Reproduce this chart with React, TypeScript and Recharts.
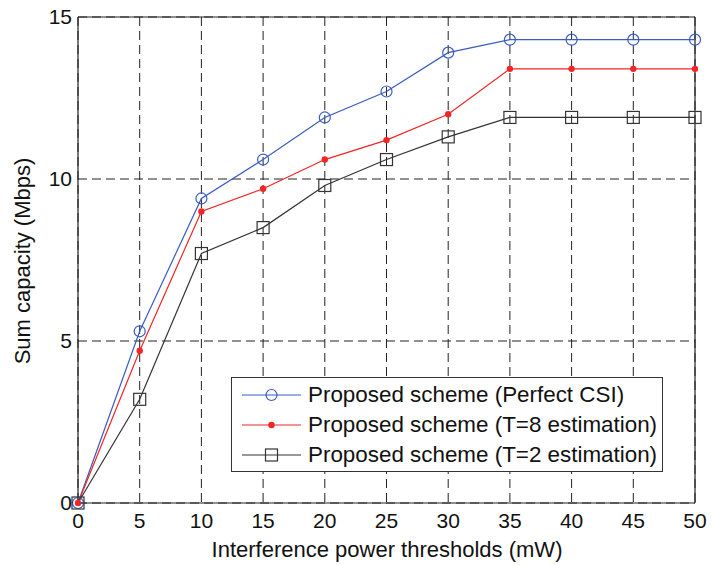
import { LineChart, Line, XAxis, YAxis, CartesianGrid, ReferenceLine, Legend } from 'recharts';

const thresholds = [0, 5, 10, 15, 20, 25, 30, 35, 40, 45, 50];
const perfectCsi = [0, 5.3, 9.4, 10.6, 11.9, 12.7, 13.9, 14.3, 14.3, 14.3, 14.3];
const t8Estimation = [0, 4.7, 9.0, 9.7, 10.6, 11.2, 12.0, 13.4, 13.4, 13.4, 13.4];
const t2Estimation = [0, 3.2, 7.7, 8.5, 9.8, 10.6, 11.3, 11.9, 11.9, 11.9, 11.9];
const xTicks = [0, 5, 10, 15, 20, 25, 30, 35, 40, 45, 50];
const yTicks = [0, 5, 10, 15];

const FONT = '"Liberation Sans", Arial, sans-serif';

const data = thresholds.map((x, i) => ({
  x,
  perfect: perfectCsi[i],
  t8: t8Estimation[i],
  t2: t2Estimation[i],
}));

const series = [
  { key: 'perfect', name: 'Proposed scheme (Perfect CSI)', color: '#3a5cc0', marker: 'circle' },
  { key: 't8', name: 'Proposed scheme (T=8 estimation)', color: '#f22626', marker: 'dot' },
  { key: 't2', name: 'Proposed scheme (T=2 estimation)', color: '#333333', marker: 'square' },
];

function Marker({ cx, cy, kind, color }: { cx: number; cy: number; kind: string; color: string }) {
  if (cx == null || cy == null) return null;
  if (kind === 'circle') return <circle cx={cx} cy={cy} r={5.5} fill="none" stroke={color} strokeWidth={1.2} />;
  if (kind === 'dot') return <circle cx={cx} cy={cy} r={3.2} fill={color} stroke="none" />;
  return <rect x={cx - 6} y={cy - 6} width={12} height={12} fill="none" stroke={color} strokeWidth={1.2} />;
}

function LegendBox() {
  return (
    <div
      style={{
        border: '1px solid #333',
        background: '#fff',
        width: 432,
        height: 95,
        boxSizing: 'border-box',
        paddingTop: 2,
        fontFamily: FONT,
        fontSize: 22.4,
        color: '#111',
      }}
    >
      {series.map((s) => (
        <div key={s.key} style={{ display: 'flex', alignItems: 'center', height: 30 }}>
          <svg width={76} height={20} style={{ flex: 'none' }}>
            <line x1={10} x2={69} y1={10} y2={10} stroke={s.color} strokeWidth={1.2} />
            <Marker cx={39.5} cy={10} kind={s.marker} color={s.color} />
          </svg>
          <span style={{ whiteSpace: 'nowrap' }}>{s.name}</span>
        </div>
      ))}
    </div>
  );
}

export default function App() {
  return (
    <div style={{ position: 'absolute', left: 0, top: 0, width: 714, height: 565, background: '#fff' }}>
      <LineChart width={714} height={565} data={data} margin={{ top: 17, right: 19, left: 0, bottom: 0 }}>
        <CartesianGrid strokeDasharray="9 5" stroke="#222" strokeWidth={1} />
        <XAxis
          dataKey="x"
          type="number"
          domain={[0, 50]}
          ticks={xTicks}
          interval={0}
          height={62}
          tickSize={0}
          tickMargin={10}
          tickLine={false}
          axisLine={{ stroke: '#222', strokeWidth: 1.2 }}
          tick={{ fontSize: 21, fill: '#111', fontFamily: FONT }}
          label={{
            content: () => (
              <text x={387} y={549} textAnchor="middle" dominantBaseline="central" fontSize={22} fill="#111" fontFamily={FONT}>
                Interference power thresholds (mW)
              </text>
            ),
          }}
        />
        <YAxis
          type="number"
          domain={[0, 15]}
          ticks={yTicks}
          interval={0}
          width={78}
          tickSize={0}
          tickMargin={6}
          tickLine={false}
          axisLine={{ stroke: '#222', strokeWidth: 1.2 }}
          tick={{ fontSize: 21, fill: '#111', fontFamily: FONT }}
          label={{
            content: () => (
              <text x={22} y={261} transform="rotate(-90 22 261)" textAnchor="middle" dominantBaseline="central" fontSize={22} fill="#111" fontFamily={FONT}>
                Sum capacity (Mbps)
              </text>
            ),
          }}
        />
        <ReferenceLine y={15} stroke="#222" strokeWidth={1.2} />
        <ReferenceLine x={50} stroke="#222" strokeWidth={1.2} />
        {series.map((s) => (
          <Line
            key={s.key}
            type="linear"
            dataKey={s.key}
            name={s.name}
            stroke={s.color}
            strokeWidth={1.2}
            isAnimationActive={false}
            dot={(p: any) => <Marker key={`${s.key}-${p.index}`} cx={p.cx} cy={p.cy} kind={s.marker} color={s.color} />}
          />
        ))}
        <Legend
          layout="vertical"
          align="center"
          verticalAlign="middle"
          content={() => <LegendBox />}
          wrapperStyle={{ left: 231, top: 377, width: 432, height: 95 }}
        />
      </LineChart>
    </div>
  );
}
